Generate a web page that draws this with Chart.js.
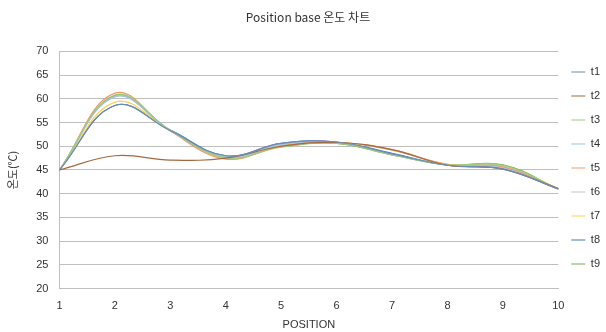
<!DOCTYPE html>
<html>
<head>
<meta charset="utf-8">
<script src="https://cdn.jsdelivr.net/npm/chart.js@4"></script>
<style>
html,body{margin:0;padding:0;background:#fff;}
#wrap{width:606px;height:332px;position:relative;}
</style>
</head>
<body>
<div id="wrap"><canvas id="c" width="606" height="332"></canvas></div>
<script>
const positions = ['1','2','3','4','5','6','7','8','9','10'];
const t1 = [45, 58.6, 53.3, 48.0, 50.6, 50.9, 48.4, 46.0, 45.2, 41.0];
const t2 = [45, 48.0, 47.1, 47.5, 50.0, 50.8, 49.3, 46.0, 45.2, 41.1];
const t3 = [45, 60.8, 53.4, 47.6, 49.8, 50.6, 48.2, 46.1, 46.0, 41.0];
const t4 = [45, 60.5, 53.3, 47.8, 50.4, 50.8, 48.3, 46.0, 45.4, 41.0];
const t5 = [45, 61.2, 53.2, 47.3, 50.1, 50.8, 49.3, 46.2, 45.6, 41.1];
const t6 = [45, 60.4, 53.4, 47.6, 50.2, 50.8, 49.2, 46.1, 45.8, 41.0];
const t7 = [45, 59.3, 53.3, 47.4, 50.2, 50.8, 49.2, 46.2, 45.8, 41.0];
const t8 = [45, 58.6, 53.4, 48.0, 50.6, 50.9, 48.5, 46.0, 45.3, 41.0];
const t9 = [45, 60.7, 53.4, 47.6, 49.9, 50.6, 48.2, 46.1, 46.1, 41.0];

const seriesNames = ['t1','t2','t3','t4','t5','t6','t7','t8','t9'];
const seriesData = [t1,t2,t3,t4,t5,t6,t7,t8,t9];
const seriesColors = ['#6f8db3','#a5693f','#9ccc7c','#9dc3e6','#f29a63','#c4c4c4','#ffd24d','#4472c4','#70ad47'];

const datasets = seriesNames.map((n,i)=>({
  label: n,
  data: seriesData[i],
  borderColor: seriesColors[i],
  backgroundColor: seriesColors[i],
  borderWidth: 1.2,
  pointRadius: 0,
  tension: 0.4,
  fill: false
}));

const tickFont = {family: "'Liberation Sans', Arial, sans-serif", size: 11};

new Chart(document.getElementById('c'), {
  type: 'line',
  data: { labels: positions, datasets: datasets },
  options: {
    responsive: false,
    animation: false,
    devicePixelRatio: 1,
    layout: { padding: { left: 6, right: -4, top: 4, bottom: 0 } },
    plugins: {
      title: {
        display: true,
        text: 'Position base 온도 차트',
        color: '#333',
        font: { family: "'Noto Sans CJK KR', sans-serif", size: 12, weight: 'normal' },
        padding: { top: 6, bottom: 27 }
      },
      legend: {
        position: 'right',
        align: 'center',
        labels: {
          usePointStyle: true,
          pointStyle: 'line',
          pointStyleWidth: 14,
          boxHeight: 11,
          padding: 13,
          color: '#333',
          font: tickFont
        }
      },
      tooltip: { enabled: false }
    },
    scales: {
      x: {
        type: 'category',
        offset: false,
        grid: { display: false, drawTicks: false },
        border: { display: true, color: '#bfbfbf', width: 1 },
        ticks: { color: '#333', font: tickFont, padding: 11, maxRotation: 0 },
        title: { display: true, text: 'POSITION', color: '#333', font: tickFont, padding: { top: -5, bottom: 0 } }
      },
      y: {
        min: 20, max: 70,
        ticks: { stepSize: 5, color: '#333', font: tickFont, padding: 11 },
        grid: { color: '#bfbfbf', drawTicks: false, lineWidth: 1 },
        border: { display: true, color: '#bfbfbf' },
        title: { display: true, text: '온도(℃)', color: '#333', font: { family: "'Noto Sans CJK KR', sans-serif", size: 11 }, padding: { top: 0, bottom: 6 } }
      }
    }
  }
});
</script>
</body>
</html>
